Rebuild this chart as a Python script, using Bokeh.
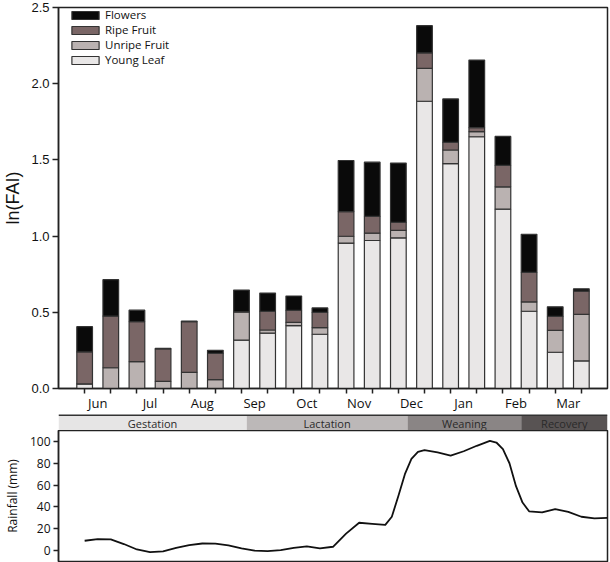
from bokeh.plotting import figure
from bokeh.layouts import column
from bokeh.models import (FixedTicker, ColumnDataSource, Range1d, Span,
                          NumeralTickFormatter, CustomJSTickFormatter)
from bokeh.embed import file_html
from bokeh.resources import INLINE
from bokeh.core.properties import value

# ---------------- data ----------------
months = ["Jun", "Jul", "Aug", "Sep", "Oct", "Nov", "Dec", "Jan", "Feb", "Mar"]
bar_pos = list(range(1, 21))
young_leaf = [0.03, 0.0, 0.0, 0.0, 0.0, 0.0, 0.317, 0.363, 0.413, 0.356,
              0.954, 0.971, 0.989, 1.885, 1.475, 1.652, 1.177, 0.507, 0.238, 0.181]
unripe_fruit = [0.0, 0.136, 0.177, 0.047, 0.106, 0.058, 0.186, 0.021, 0.021, 0.044,
                0.045, 0.048, 0.049, 0.215, 0.09, 0.034, 0.146, 0.061, 0.144, 0.305]
ripe_fruit = [0.21, 0.339, 0.261, 0.213, 0.333, 0.173, 0.0, 0.123, 0.078, 0.099,
              0.162, 0.11, 0.052, 0.102, 0.05, 0.026, 0.141, 0.194, 0.091, 0.153]
flowers = [0.166, 0.239, 0.076, 0.003, 0.003, 0.02, 0.143, 0.119, 0.095, 0.03,
           0.335, 0.356, 0.389, 0.179, 0.285, 0.443, 0.19, 0.25, 0.063, 0.015]

phase_names = ["Gestation", "Lactation", "Weaning", "Recovery"]
phase_start = [0.0, 7.2, 13.35, 17.7]
phase_end = [7.2, 13.35, 17.7, 21.0]

rain_x = [1.0, 1.5, 2.0, 2.5, 3.0, 3.5, 4.0, 4.5, 5.0, 5.5, 6.0, 6.5, 7.0, 7.5,
          8.0, 8.5, 9.0, 9.5, 10.0, 10.5, 11.0, 11.5, 12.0, 12.5, 12.75, 13.0,
          13.25, 13.5, 13.75, 14.0, 14.5, 15.0, 15.5, 16.0, 16.5, 16.75, 17.0,
          17.25, 17.5, 17.75, 18.0, 18.5, 19.0, 19.5, 20.0, 20.5, 21.0]
rain_mm = [9, 10.5, 10.2, 6, 1, -1.5, -0.8, 2.5, 5, 6.5, 6.3, 4.8, 2, 0,
           -0.5, 0.5, 2.5, 3.8, 2, 3.5, 15.5, 25.5, 24.5, 23.5, 31, 50,
           70, 84, 90.5, 92, 90, 87, 91, 96, 100.5, 99, 93,
           80, 59, 44, 36, 35, 38, 35.5, 31, 29.5, 30]

# ---------------- styling ----------------
FONT = "Open Sans"
W = 609
LEFT = 54
RIGHT = 2
bar_colors = ["#e9e7e7", "#bab2b1", "#7a6666", "#0a0a0a"]
phase_colors = ["#e6e5e5", "#bcb8b8", "#8a8585", "#585353"]
xr = Range1d(0, 21)

# ---------------- top: stacked bars ----------------
src = ColumnDataSource(dict(x=bar_pos, yl=young_leaf, uf=unripe_fruit,
                            rf=ripe_fruit, fl=flowers))
p1 = figure(width=W, height=414, x_range=xr, y_range=Range1d(0, 2.5),
            output_backend="svg", toolbar_location=None,
            min_border_left=LEFT, min_border_right=RIGHT,
            min_border_top=7, min_border_bottom=0)
p1.vbar_stack(["yl", "uf", "rf", "fl"], x="x", width=0.6, source=src,
              fill_color=bar_colors, line_color="#333333", line_width=1.2,
              legend_label=["Young Leaf", "Unripe Fruit", "Ripe Fruit", "Flowers"])
p1.legend[0].items.reverse()
lg = p1.legend[0]
lg.location = (10, 321)
lg.padding = 0
lg.margin = 0
lg.spacing = 0
lg.glyph_width = 34
lg.glyph_height = 10
lg.label_height = 11
lg.label_standoff = 3
lg.label_text_font = FONT
lg.label_text_font_size = "11.5px"
lg.label_text_color = "#111111"
lg.border_line_color = None
lg.background_fill_alpha = 0

p1.grid.visible = False
p1.outline_line_color = "#222222"
p1.outline_line_width = 1.5

xa = p1.xaxis[0]
xa.ticker = FixedTicker(ticks=[1.5 + 2 * i for i in range(len(months))],
                        minor_ticks=bar_pos)
xa.formatter = CustomJSTickFormatter(args=dict(months=months),
                                     code="return months[Math.round((tick - 1.5) / 2)];")
xa.major_tick_line_color = None
xa.major_tick_out = 5
xa.major_tick_in = 0
xa.minor_tick_in = 0
xa.minor_tick_out = 5
xa.minor_tick_line_color = "#222222"
xa.minor_tick_line_width = 1.5
xa.axis_line_color = "#222222"
xa.axis_line_width = 1.5
xa.major_label_standoff = 0
xa.major_label_text_font = FONT
xa.major_label_text_font_size = "13px"
xa.major_label_text_color = "#111111"

ya = p1.yaxis[0]
ya.ticker = FixedTicker(ticks=[0, 0.5, 1.0, 1.5, 2.0, 2.5])
ya.formatter = NumeralTickFormatter(format="0.0")
ya.minor_tick_line_color = None
ya.major_tick_out = 6
ya.major_tick_in = 0
ya.major_tick_line_color = "#222222"
ya.major_tick_line_width = 1.5
ya.axis_line_color = "#222222"
ya.axis_line_width = 1.5
ya.major_label_standoff = 3
ya.major_label_text_font = "Liberation Sans"
ya.major_label_text_font_size = "13px"
ya.major_label_text_color = "#111111"
ya.axis_label = "ln(FAI)"
ya.axis_label_text_font = "Liberation Sans"
ya.axis_label_text_font_size = "18px"
ya.axis_label_text_font_style = "normal"
ya.axis_label_text_color = "#111111"
ya.axis_label_standoff = 5

# ---------------- middle: phase strip ----------------
psrc = ColumnDataSource(dict(left=phase_start, right=phase_end, name=phase_names,
                             color=phase_colors,
                             mid=[(a + b) / 2 for a, b in zip(phase_start, phase_end)]))
p2 = figure(width=W, height=16, x_range=xr, y_range=Range1d(0, 1.07),
            output_backend="svg", toolbar_location=None,
            min_border_left=LEFT, min_border_right=RIGHT,
            min_border_top=0, min_border_bottom=0,
            x_axis_location=None, y_axis_location=None)
p2.quad(left="left", right="right", bottom=0, top=1, fill_color="color",
        line_color=None, source=psrc)
p2.text(x="mid", y=0.5, text="name", source=psrc, text_align="center",
        text_baseline="middle", text_font=value(FONT), text_font_size="11px",
        text_color="#2a2a2a")
p2.add_layout(Span(location=1.035, dimension="width", line_color="#333333",
                   line_width=2))
p2.grid.visible = False
p2.outline_line_color = None

# ---------------- bottom: rainfall ----------------
p3 = figure(width=W, height=132, x_range=xr, y_range=Range1d(-10, 110),
            output_backend="svg", toolbar_location=None,
            min_border_left=LEFT, min_border_right=RIGHT,
            min_border_top=0, min_border_bottom=1,
            x_axis_location=None)
p3.line(rain_x, rain_mm, line_color="#111111", line_width=1.8,
        line_join="round")
p3.grid.visible = False
p3.outline_line_color = "#222222"
p3.outline_line_width = 1.5
ra = p3.yaxis[0]
ra.ticker = FixedTicker(ticks=[0, 20, 40, 60, 80, 100])
ra.minor_tick_line_color = None
ra.major_tick_out = 5
ra.major_tick_in = 0
ra.major_tick_line_color = "#222222"
ra.major_tick_line_width = 1.5
ra.axis_line_color = "#222222"
ra.axis_line_width = 1.5
ra.major_label_standoff = 3
ra.major_label_text_font = FONT
ra.major_label_text_font_size = "12px"
ra.major_label_text_color = "#111111"
ra.axis_label = "Rainfall (mm)"
ra.axis_label_text_font = FONT
ra.axis_label_text_font_size = "12px"
ra.axis_label_text_font_style = "normal"
ra.axis_label_text_color = "#111111"
ra.axis_label_standoff = 6

layout = column(p1, p2, p3, spacing=0)
open("out.html", "w").write(file_html(layout, INLINE))
